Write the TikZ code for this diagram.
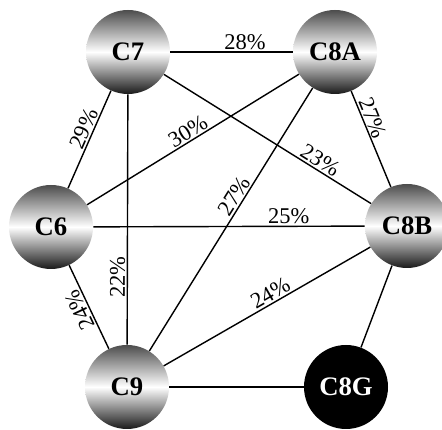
\documentclass[tikz,border=0pt]{standalone}
\usepackage{fontspec}
\setmainfont{Liberation Serif}
\begin{document}
\begin{tikzpicture}[
  ball/.style={circle,minimum size=2.1cm,inner sep=0pt,top color=black!70,bottom color=black!90,middle color=white,font=\fontsize{19}{19}\selectfont\bfseries},
  blackball/.style={circle,minimum size=2.1cm,inner sep=0pt,fill=black,text=white,font=\fontsize{19}{19}\selectfont\bfseries},
  pct/.style={sloped,above,inner sep=1pt,font=\fontsize{16}{16}\selectfont},
  link/.style={line width=1pt}]
\useasboundingbox (0,0) rectangle (11.05,10.75);

\node[ball] (c7) at (3.2,9.45) {C7};
\node[ball] (c8a) at (8.375,9.45) {C8A};
\node[ball] (c6) at (1.275,5.075) {C6};
\node[ball] (c8b) at (10.175,5.1) {C8B};
\node[ball] (c9) at (3.175,1.075) {C9};
\node[blackball] (c8g) at (8.65,1.075) {C8G};

\draw[link] (c7) -- node[pct,pos=0.61] {28\%} (c8a);
\draw[link] (c6) -- node[pct,pos=0.57] {29\%} (c7);
\draw[link] (c9) -- node[pct,pos=0.27] {22\%} (c7);
\draw[link] (c7) -- node[pct,pos=0.73] {23\%} (c8b);
\draw[link] (c6) -- node[pct,pos=0.5] {30\%} (c8a);
\draw[link] (c8a) -- node[pct,pos=0.32] {27\%} (c8b);
\draw[link] (c9) -- node[pct,pos=0.57] {27\%} (c8a);
\draw[link] (c6) -- node[pct,pos=0.72] {25\%} (c8b);
\draw[link] (c9) -- node[pct,allow upside down,pos=0.51] {24\%} (c6);
\draw[link] (c9) -- node[pct,pos=0.54] {24\%} (c8b);
\draw[link] (c9) -- (c8g);
\draw[link] (c8b) -- (c8g);
\end{tikzpicture}
\end{document}
